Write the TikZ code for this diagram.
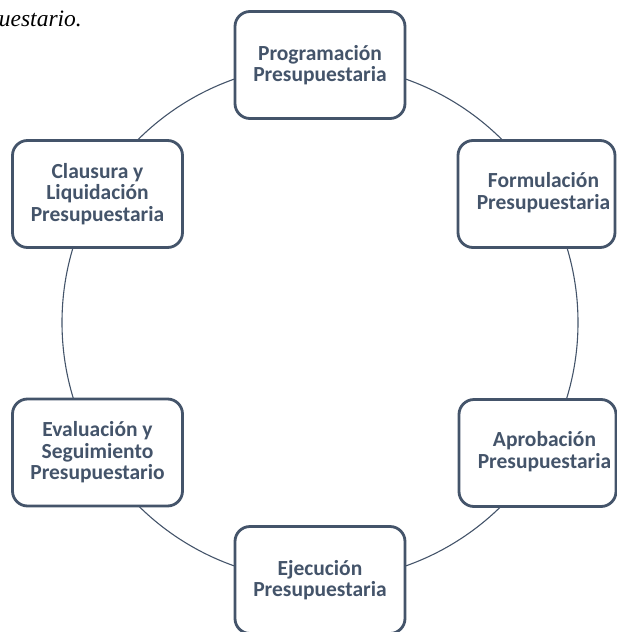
\documentclass[tikz,border=0pt]{standalone}
\usepackage{fontspec}
\setmainfont{Carlito}
\newfontfamily\capfont{Liberation Serif}
\definecolor{slate}{HTML}{44546A}
\begin{document}
\begin{tikzpicture}[x=1pt,y=-1pt,
  stage/.style={draw=slate, line width=2.8pt, rounded corners=15pt, fill=white,
    minimum width=170pt, minimum height=107pt, inner sep=0pt, align=center,
    font=\fontsize{21.5}{21.5}\selectfont\bfseries, text=slate},
  narrowstage/.style={stage, minimum width=157pt},
  ring/.style={draw=slate, line width=1.1pt}]
\path[use as bounding box] (0,0) rectangle (617,632);
\clip (0,0) rectangle (617,632);
\node[font=\capfont\itshape\fontsize{23.5}{26}\selectfont, anchor=base east, inner sep=0pt] (cap) at (82,26) {uestario.};
\coordinate (c) at (320,322.5);
\draw[ring] (c) circle [radius=258pt];
\node[stage] (prog) at (320,65) {Programación\\Presupuestaria};
\node[narrowstage] (form) at (536.5,194) {\hspace*{14pt}\begin{tabular}{@{}c@{}}Formulación\\Presupuestaria\end{tabular}};
\node[narrowstage] (apro) at (537.5,453) {\hspace*{14pt}\begin{tabular}{@{}c@{}}Aprobación\\Presupuestaria\end{tabular}};
\node[stage] (ejec) at (320,580) {Ejecución\\Presupuestaria};
\node[stage] (eval) at (97.5,452.5) {Evaluación y\\Seguimiento\\Presupuestario};
\node[stage] (clau) at (97.5,194) {Clausura y\\Liquidación\\Presupuestaria};
\end{tikzpicture}
\end{document}
